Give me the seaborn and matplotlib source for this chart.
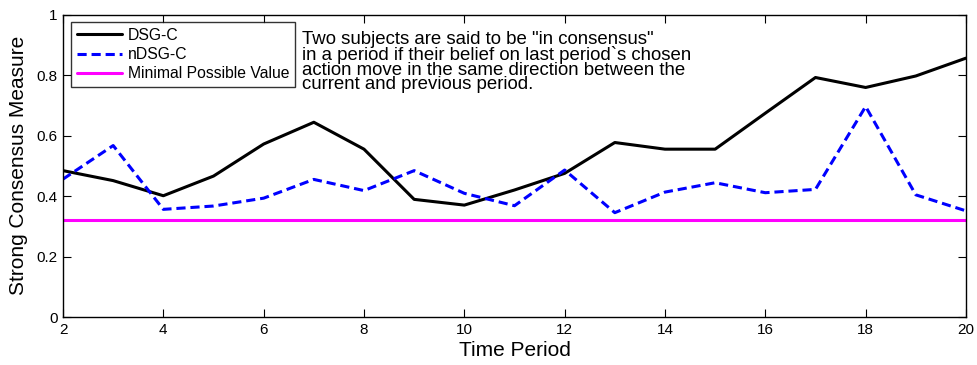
import matplotlib
matplotlib.use("Agg")
import matplotlib.pyplot as plt
import seaborn as sns
import pandas as pd

# Consensus measure per time period
periods = list(range(2, 21))
dsg_c = [0.484, 0.451, 0.401, 0.466, 0.572, 0.644, 0.555, 0.389, 0.370,
         0.420, 0.475, 0.577, 0.555, 0.555, 0.674, 0.792, 0.759, 0.797, 0.856]
ndsg_c = [0.456, 0.567, 0.356, 0.367, 0.393, 0.455, 0.418, 0.484, 0.409,
          0.368, 0.486, 0.345, 0.413, 0.444, 0.411, 0.422, 0.696, 0.404, 0.351]
min_value = 0.320

x_ticks = [2, 4, 6, 8, 10, 12, 14, 16, 18, 20]
y_ticks = [0, 0.2, 0.4, 0.6, 0.8, 1]
y_tick_labels = ["0", "0.2", "0.4", "0.6", "0.8", "1"]

note = ('Two subjects are said to be "in consensus"\n'
        "in a period if their belief on last period`s chosen\n"
        "action move in the same direction between the\n"
        "current and previous period.")

sns.set_theme(style="ticks")
plt.rcParams["font.family"] = ["Liberation Sans", "DejaVu Sans"]
plt.rcParams.update({
    "xtick.direction": "in", "ytick.direction": "in",
    "xtick.top": True, "ytick.right": True,
    "xtick.major.size": 6, "ytick.major.size": 6,
    "xtick.major.width": 0.8, "ytick.major.width": 0.8,
    "axes.linewidth": 1.0, "axes.edgecolor": "black",
    "xtick.color": "black", "ytick.color": "black",
    "text.color": "black", "axes.labelcolor": "black",
})

df = pd.DataFrame({
    "period": periods * 3,
    "value": dsg_c + ndsg_c + [min_value] * len(periods),
    "series": (["DSG-C"] * len(periods) + ["nDSG-C"] * len(periods)
               + ["Minimal Possible Value"] * len(periods)),
})

fig = plt.figure(figsize=(9.77, 3.65), dpi=100)
ax = fig.add_axes([0.0645, 0.1315, 0.9242, 0.8285])

sns.lineplot(data=df, x="period", y="value", hue="series", style="series",
             palette={"DSG-C": "black", "nDSG-C": "#0000ff",
                      "Minimal Possible Value": "#ff00ff"},
             dashes={"DSG-C": "", "nDSG-C": (3, 1.6),
                     "Minimal Possible Value": ""},
             linewidth=2.2, ax=ax, legend=True)

ax.set_xlim(2, 20)
ax.set_ylim(0, 1)
ax.set_xticks(x_ticks)
ax.set_xticklabels([str(t) for t in x_ticks], fontsize=11)
ax.set_yticks(y_ticks)
ax.set_yticklabels(y_tick_labels, fontsize=11)
ax.tick_params(pad=4)
ax.set_xlabel("Time Period", fontsize=15, labelpad=3)
ax.set_ylabel("Strong Consensus Measure", fontsize=15, labelpad=6)

leg = ax.legend(loc="upper left", bbox_to_anchor=(0.009, 0.974), fontsize=11.3,
                frameon=True, fancybox=False, edgecolor="black",
                handlelength=2.9, handletextpad=0.35, borderpad=0.35,
                labelspacing=0.27, borderaxespad=0)
leg.get_frame().set_linewidth(1.0)

ax.text(0.265, 0.945, note, transform=ax.transAxes, fontsize=13.4,
        va="top", ha="left", linespacing=0.83)

fig.savefig("out.png", dpi=100)
